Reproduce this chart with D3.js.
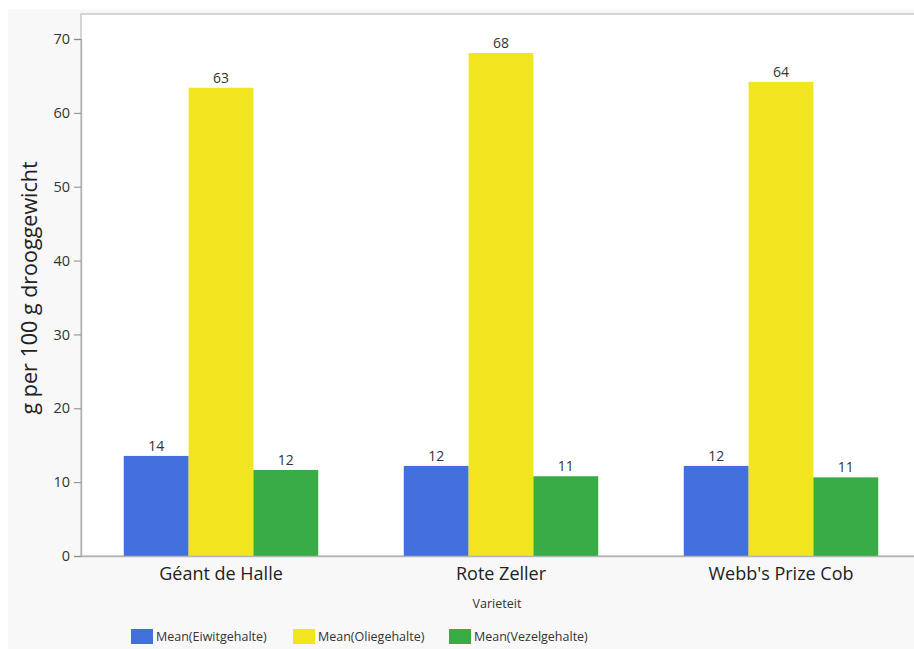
<!DOCTYPE html>
<html>
<head>
<meta charset="utf-8">
<script src="https://cdn.jsdelivr.net/npm/d3@7"></script>
<style>
  body { margin: 0; background: #fff; }
  svg { display: block; font-family: "Open Sans", "Noto Sans", sans-serif; }
</style>
</head>
<body>
<svg id="chart" width="914" height="649"></svg>
<script>
// varieties on the x axis
const varieties = ['Géant de Halle', 'Rote Zeller', "Webb's Prize Cob"];
const seriesNames = ['Mean(Eiwitgehalte)', 'Mean(Oliegehalte)', 'Mean(Vezelgehalte)'];
const seriesColors = ['#4170dc', '#f0e51e', '#3aac45'];
// values per series, in variety order
const eiwit = [13.55, 12.2, 12.2];
const olie = [63.4, 68.1, 64.2];
const vezel = [11.65, 10.8, 10.65];
const yTicks = [0, 10, 20, 30, 40, 50, 60, 70];

const svg = d3.select('#chart');
const W = 914, H = 649;

// outer frame
svg.append('rect').attr('x', 8).attr('y', 9).attr('width', W - 8).attr('height', H - 9)
  .attr('fill', '#f8f8f8');

const margin = {left: 81, top: 14, right: -7, bottom: 93};
const plotW = W - margin.left - margin.right;
const plotH = H - margin.top - margin.bottom;

const g = svg.append('g').attr('transform', `translate(${margin.left},${margin.top})`);

g.append('rect').attr('width', plotW).attr('height', plotH).attr('fill', '#fff')
  .attr('stroke', '#c8c8c8').attr('stroke-width', 1.5);

const x = d3.scaleBand().domain(varieties).range([0, plotW]);
const xs = d3.scaleBand().domain(seriesNames).range([0, x.bandwidth()]).paddingOuter(0.66);
const y = d3.scaleLinear().domain([0, 70]).range([plotH, 25]);

const data = varieties.map((v, i) => ({
  variety: v,
  vals: [eiwit[i], olie[i], vezel[i]]
}));

const groups = g.selectAll('g.grp').data(data).enter().append('g')
  .attr('class', 'grp')
  .attr('transform', (d) => `translate(${x(d.variety)},0)`);

groups.selectAll('rect').data((d) => d.vals.map((v, j) => ({v, j})))
  .enter().append('rect')
  .attr('x', (d) => xs(seriesNames[d.j]))
  .attr('y', (d) => y(d.v))
  .attr('width', xs.bandwidth())
  .attr('height', (d) => y(0) - y(d.v))
  .attr('fill', (d) => seriesColors[d.j]);

groups.selectAll('text').data((d) => d.vals.map((v, j) => ({v, j})))
  .enter().append('text')
  .attr('x', (d) => xs(seriesNames[d.j]) + xs.bandwidth() / 2)
  .attr('y', (d) => y(d.v) - 5)
  .attr('text-anchor', 'middle')
  .attr('font-size', 14)
  .attr('fill', '#333')
  .text((d) => d3.format('.0f')(d.v));

// y axis
const yAxis = g.append('g')
  .call(d3.axisLeft(y).tickValues(yTicks).tickSize(7).tickPadding(4));
yAxis.select('.domain').attr('stroke', '#b4b4b4').attr('stroke-width', 1.5);
yAxis.selectAll('.tick line').attr('stroke', '#888');
yAxis.selectAll('.tick text').attr('font-size', 14.5).attr('fill', '#333')
  .attr('font-family', '"Open Sans", sans-serif');

// x axis
const xAxis = g.append('g').attr('transform', `translate(0,${plotH})`)
  .call(d3.axisBottom(x).tickSize(0).tickPadding(11));
xAxis.select('.domain').attr('stroke', '#b4b4b4').attr('stroke-width', 1.5);
xAxis.selectAll('.tick text').attr('font-size', 18).attr('fill', '#222')
  .attr('font-family', '"Open Sans", sans-serif');

// titles
svg.append('text')
  .attr('transform', `translate(37,${margin.top + y(36.3)}) rotate(-90)`)
  .attr('text-anchor', 'middle')
  .attr('font-size', 21.5)
  .attr('fill', '#222')
  .text('g per 100 g drooggewicht');

svg.append('text')
  .attr('x', 497)
  .attr('y', 608)
  .attr('text-anchor', 'middle')
  .attr('font-size', 12.5)
  .attr('fill', '#333')
  .text('Varieteit');

// legend
const legendX = [131, 293, 449];
const leg = svg.selectAll('g.leg').data(seriesNames).enter().append('g')
  .attr('class', 'leg')
  .attr('transform', (d, i) => `translate(${legendX[i]},629)`);
leg.append('rect').attr('width', 22).attr('height', 15)
  .attr('fill', (d, i) => seriesColors[i]);
leg.append('text').attr('x', 25).attr('y', 12)
  .attr('font-size', 12.5).attr('fill', '#333')
  .text((d) => d);
</script>
</body>
</html>
